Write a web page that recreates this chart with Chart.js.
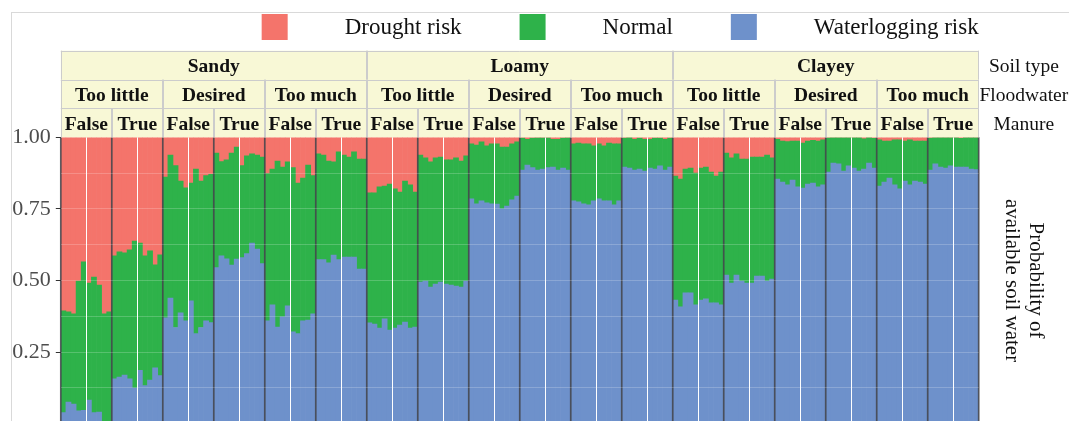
<!DOCTYPE html>
<html>
<head>
<meta charset="utf-8">
<script src="https://cdn.jsdelivr.net/npm/chart.js@4.4.1/dist/chart.umd.min.js"></script>
<style>
  html, body { margin: 0; padding: 0; background: #ffffff; overflow: hidden; }
  #wrap { width: 1069px; height: 430px; }
</style>
</head>
<body>
<div id="wrap"><canvas id="chart" width="1069" height="430"></canvas></div>
<script>
// Facet levels (outer to inner)
const soilTypes = ['Sandy', 'Loamy', 'Clayey'];
const floodwater = ['Too little', 'Desired', 'Too much'];
const manure = ['False', 'True'];
const facetTitles = ['Soil type', 'Floodwater', 'Manure'];
const yTicks = [0.25, 0.5, 0.75, 1.0];
const runsPerPanel = 10;

// Probabilities per panel (soil x floodwater x manure), 10 runs each
const waterlogging = [
  [0.039,0.076,0.069,0.045,0.047,0.083,0.039,0.041,0.005,0.005],
  [0.157,0.163,0.170,0.157,0.125,0.187,0.133,0.153,0.195,0.168],
  [0.370,0.439,0.336,0.387,0.359,0.429,0.315,0.336,0.359,0.353],
  [0.545,0.586,0.576,0.554,0.575,0.580,0.594,0.631,0.610,0.559],
  [0.359,0.415,0.338,0.373,0.412,0.321,0.315,0.359,0.362,0.384],
  [0.573,0.573,0.562,0.589,0.573,0.582,0.582,0.582,0.540,0.540],
  [0.352,0.348,0.334,0.366,0.327,0.334,0.345,0.355,0.334,0.338],
  [0.495,0.498,0.477,0.488,0.495,0.488,0.484,0.481,0.477,0.498],
  [0.785,0.768,0.778,0.771,0.768,0.767,0.750,0.760,0.782,0.795],
  [0.886,0.903,0.894,0.886,0.889,0.894,0.896,0.886,0.893,0.886],
  [0.778,0.775,0.768,0.764,0.778,0.785,0.778,0.778,0.764,0.778],
  [0.896,0.893,0.886,0.889,0.882,0.893,0.889,0.900,0.886,0.896],
  [0.432,0.408,0.457,0.457,0.415,0.432,0.436,0.422,0.422,0.415],
  [0.519,0.491,0.519,0.498,0.491,0.491,0.516,0.516,0.498,0.505],
  [0.854,0.844,0.834,0.851,0.827,0.823,0.837,0.840,0.827,0.834],
  [0.879,0.910,0.907,0.882,0.900,0.893,0.882,0.889,0.910,0.893],
  [0.830,0.844,0.858,0.834,0.820,0.847,0.834,0.847,0.844,0.837],
  [0.886,0.907,0.896,0.893,0.900,0.896,0.896,0.896,0.889,0.887]
];
const normal = [
  [0.355,0.315,0.315,0.453,0.518,0.408,0.473,0.443,0.379,0.386],
  [0.429,0.437,0.427,0.450,0.513,0.444,0.453,0.451,0.360,0.422],
  [0.491,0.499,0.565,0.460,0.465,0.411,0.574,0.511,0.507,0.518],
  [0.400,0.329,0.345,0.391,0.391,0.321,0.341,0.311,0.328,0.372],
  [0.514,0.474,0.579,0.523,0.502,0.573,0.525,0.499,0.541,0.482],
  [0.369,0.365,0.355,0.325,0.376,0.356,0.349,0.367,0.384,0.384],
  [0.454,0.458,0.493,0.464,0.510,0.486,0.464,0.492,0.500,0.471],
  [0.443,0.430,0.437,0.440,0.436,0.433,0.437,0.447,0.440,0.437],
  [0.192,0.205,0.206,0.199,0.209,0.210,0.216,0.206,0.195,0.189],
  [0.111,0.090,0.103,0.112,0.109,0.104,0.097,0.107,0.104,0.112],
  [0.199,0.205,0.209,0.213,0.192,0.192,0.192,0.202,0.213,0.199],
  [0.101,0.106,0.107,0.108,0.111,0.100,0.108,0.097,0.107,0.101],
  [0.433,0.446,0.432,0.436,0.460,0.461,0.460,0.457,0.443,0.464],
  [0.426,0.437,0.423,0.426,0.433,0.440,0.415,0.415,0.440,0.423],
  [0.139,0.143,0.151,0.136,0.160,0.157,0.150,0.149,0.160,0.157],
  [0.119,0.089,0.092,0.117,0.099,0.106,0.117,0.106,0.089,0.103],
  [0.161,0.143,0.129,0.157,0.171,0.140,0.157,0.140,0.143,0.150],
  [0.111,0.092,0.103,0.106,0.099,0.103,0.100,0.103,0.110,0.112]
];
const drought = [
  [0.606,0.609,0.616,0.502,0.435,0.509,0.488,0.516,0.616,0.609],
  [0.414,0.400,0.403,0.393,0.362,0.369,0.414,0.396,0.445,0.410],
  [0.139,0.062,0.099,0.153,0.176,0.160,0.111,0.153,0.134,0.129],
  [0.055,0.085,0.079,0.055,0.034,0.099,0.065,0.058,0.062,0.069],
  [0.127,0.111,0.083,0.104,0.086,0.106,0.160,0.142,0.097,0.134],
  [0.058,0.062,0.083,0.086,0.051,0.062,0.069,0.051,0.076,0.076],
  [0.194,0.194,0.173,0.170,0.163,0.180,0.191,0.153,0.166,0.191],
  [0.062,0.072,0.086,0.072,0.069,0.079,0.079,0.072,0.083,0.065],
  [0.023,0.027,0.016,0.030,0.023,0.023,0.034,0.034,0.023,0.016],
  [0.003,0.007,0.003,0.002,0.002,0.002,0.007,0.007,0.003,0.002],
  [0.023,0.020,0.023,0.023,0.030,0.023,0.030,0.020,0.023,0.023],
  [0.003,0.001,0.007,0.003,0.007,0.007,0.003,0.003,0.007,0.003],
  [0.135,0.146,0.111,0.107,0.125,0.107,0.104,0.121,0.135,0.121],
  [0.055,0.072,0.058,0.076,0.076,0.069,0.069,0.069,0.062,0.072],
  [0.007,0.013,0.015,0.013,0.013,0.020,0.013,0.011,0.013,0.009],
  [0.002,0.001,0.001,0.001,0.001,0.001,0.001,0.005,0.001,0.004],
  [0.009,0.013,0.013,0.009,0.009,0.013,0.009,0.013,0.013,0.013],
  [0.003,0.001,0.001,0.001,0.001,0.001,0.004,0.001,0.001,0.001]
];

const SERIF = "'Liberation Serif', 'Times New Roman', serif";
const COLORS = { drought: '#f4746b', normal: '#2eb24a', water: '#6e91cb' };

// One category per run, ordered soil > floodwater > manure > run
const labels = [];
soilTypes.forEach(s => floodwater.forEach(f => manure.forEach(m => {
  for (let k = 1; k <= runsPerPanel; k++) labels.push(`${s} / ${f} / ${m} / ${k}`);
})));
const N = labels.length;

// Left edge pixel of category i (i = N gives the right edge)
function edgeX(chart, i) {
  const a = chart.chartArea, xs = chart.scales.x;
  if (i <= 0) return a.left;
  if (i >= N) return a.right;
  return (xs.getPixelForValue(i - 1) + xs.getPixelForValue(i)) / 2;
}

const isMajor = v => v > 0 && Math.abs(v * 4 - Math.round(v * 4)) < 1e-6;

const facetPlugin = {
  id: 'facets',
  beforeDraw(chart) {
    const ctx = chart.ctx;
    ctx.save();
    ctx.strokeStyle = '#d9d9d9';
    ctx.lineWidth = 1;
    ctx.strokeRect(11.5, 12.5, chart.width + 20, chart.height + 20);
    ctx.restore();
  },
  afterDatasetsDraw(chart) {
    const { ctx, chartArea: a } = chart;
    ctx.save();
    // run-group dividers inside each panel, then panel borders
    for (let i = runsPerPanel / 2; i < N; i += runsPerPanel) {
      const x = Math.round(edgeX(chart, i)) + 0.5;
      ctx.strokeStyle = '#ffffff';
      ctx.lineWidth = 1;
      ctx.beginPath(); ctx.moveTo(x, a.top); ctx.lineTo(x, a.bottom); ctx.stroke();
    }
    for (let i = 0; i <= N; i += runsPerPanel) {
      const x = edgeX(chart, i);
      ctx.strokeStyle = 'rgba(68,70,76,0.88)';
      ctx.lineWidth = 1.7;
      ctx.beginPath(); ctx.moveTo(x, a.top); ctx.lineTo(x, a.bottom); ctx.stroke();
    }
    ctx.restore();
  },
  afterDraw(chart) {
    const { ctx, chartArea: a } = chart;
    ctx.save();

    // facet strips
    const hdrTop = 50.7;
    const rowH = (a.top - hdrTop) / 3;
    const rows = [
      { names: soilTypes, size: N / soilTypes.length },
      { names: floodwater, size: N / (soilTypes.length * floodwater.length) },
      { names: manure, size: runsPerPanel }
    ];
    ctx.fillStyle = '#f8f8d6';
    ctx.fillRect(a.left, hdrTop, a.right - a.left, a.top - hdrTop);
    ctx.strokeStyle = '#cccccc';
    ctx.lineWidth = 1;
    rows.forEach((row, r) => {
      const y0 = hdrTop + r * rowH, y1 = y0 + rowH;
      ctx.beginPath();
      ctx.moveTo(a.left, Math.round(y0) + 0.5); ctx.lineTo(a.right, Math.round(y0) + 0.5);
      ctx.stroke();
      for (let i = 0, g = 0; i < N; i += row.size, g++) {
        const xl = edgeX(chart, i), xr = edgeX(chart, i + row.size);
        ctx.beginPath();
        ctx.moveTo(Math.round(xl) + 0.5, y0); ctx.lineTo(Math.round(xl) + 0.5, y1);
        ctx.moveTo(Math.round(xr) - 0.5, y0); ctx.lineTo(Math.round(xr) - 0.5, y1);
        ctx.stroke();
        ctx.fillStyle = '#111111';
        ctx.font = `bold 19.5px ${SERIF}`;
        ctx.textAlign = 'center';
        ctx.textBaseline = 'alphabetic';
        ctx.fillText(row.names[g % row.names.length], (xl + xr) / 2, y0 + rowH / 2 + 7);
      }
      // facet variable name to the right of the strip
      ctx.fillStyle = '#111111';
      ctx.font = `19.5px ${SERIF}`;
      ctx.textAlign = 'center';
      ctx.fillText(facetTitles[r], (a.right + chart.width) / 2, y0 + rowH / 2 + 7);
    });

    // legend, right-aligned with the plot
    const items = chart.data.datasets.slice().reverse();
    ctx.font = `23px ${SERIF}`;
    const box = 26, gapText = 57, gapItem = 58;
    const widths = items.map(d => ctx.measureText(d.label).width);
    let total = widths.reduce((s, w) => s + w + box + gapText, 0) + gapItem * (items.length - 1);
    let x = a.right - total;
    items.forEach((d, i) => {
      ctx.fillStyle = d.backgroundColor;
      ctx.fillRect(x, 14, box, box);
      ctx.fillStyle = '#111111';
      ctx.textAlign = 'left';
      ctx.textBaseline = 'alphabetic';
      ctx.fillText(d.label, x + box + gapText, 34);
      x += box + gapText + widths[i] + gapItem;
    });

    // y-axis title on the right
    ctx.translate((a.right + chart.width) / 2, (a.top + a.bottom) / 2);
    ctx.rotate(Math.PI / 2);
    ctx.font = `21px ${SERIF}`;
    ctx.fillStyle = '#111111';
    ctx.textAlign = 'center';
    ctx.textBaseline = 'middle';
    ctx.fillText('Probability of', 0, -12);
    ctx.fillText('available soil water', 0, 12);
    ctx.restore();
  }
};

new Chart(document.getElementById('chart'), {
  type: 'bar',
  data: {
    labels,
    datasets: [
      { label: 'Waterlogging risk', data: waterlogging.flat(), backgroundColor: COLORS.water },
      { label: 'Normal', data: normal.flat(), backgroundColor: COLORS.normal },
      { label: 'Drought risk', data: drought.flat(), backgroundColor: COLORS.drought }
    ]
  },
  options: {
    responsive: false,
    animation: false,
    layout: { padding: { top: 137.3, left: 0, right: 1069 - 978.7, bottom: 430 - 423.8 } },
    datasets: { bar: { categoryPercentage: 1, barPercentage: 1, borderWidth: 0 } },
    plugins: { legend: { display: false }, tooltip: { enabled: false } },
    scales: {
      x: { stacked: true, display: false },
      y: {
        stacked: true,
        min: 0,
        max: 1,
        afterFit(scale) {
          scale.width = 60.8;
          scale.paddingTop = 0;
          scale.paddingBottom = 0;
        },
        border: { display: false },
        grid: {
          z: 1,
          lineWidth: 1,
          tickLength: 5,
          color: c => (c.tick && c.tick.value > 0 && c.tick.value < 1) ? 'rgba(255,255,255,0.2)' : 'rgba(0,0,0,0)',
          tickColor: c => (c.tick && isMajor(c.tick.value)) ? '#333333' : 'rgba(0,0,0,0)'
        },
        ticks: {
          stepSize: 0.125,
          autoSkip: false,
          padding: 5,
          color: '#4d4d4d',
          font: { family: SERIF, size: 22 },
          callback: v => yTicks.some(t => Math.abs(t - v) < 1e-6) ? Number(v).toFixed(2) : ''
        }
      }
    }
  },
  plugins: [facetPlugin]
});
</script>
</body>
</html>
